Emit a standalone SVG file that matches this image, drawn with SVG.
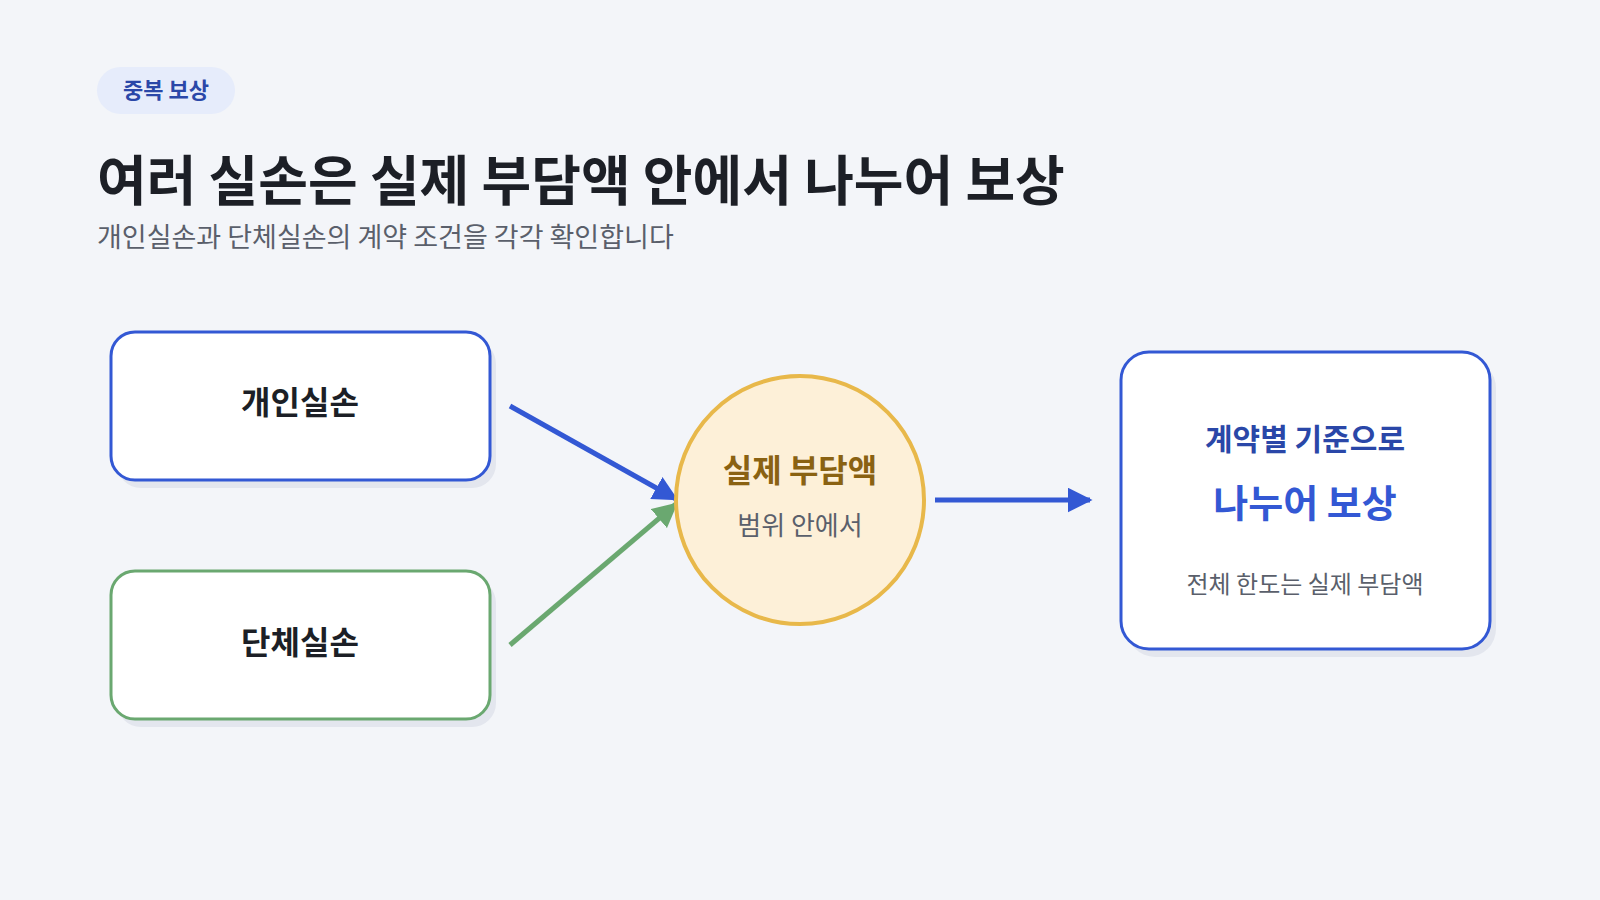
<svg xmlns="http://www.w3.org/2000/svg" width="1600" height="900" viewBox="0 0 1600 900">
<defs>
<style>
text{font-family:"Noto Sans CJK KR","Noto Sans",sans-serif;text-anchor:middle}
.shadow{fill:#e3e6ee}
.box{fill:#fff;stroke-width:3}
.lbl{font-size:32px;font-weight:700;fill:#1c1f26}
</style>
<marker id="ab" viewBox="0 0 10 10" refX="9" refY="5" markerWidth="5" markerHeight="5" orient="auto"><path d="M0,0L10,5L0,10z" fill="#3358d4"/></marker>
<marker id="ag" viewBox="0 0 10 10" refX="9" refY="5" markerWidth="5" markerHeight="5" orient="auto"><path d="M0,0L10,5L0,10z" fill="#6aa870"/></marker>
</defs>
<rect width="1600" height="900" fill="#f3f5f9"/>
<g id="tag"><rect x="97" y="67" width="138" height="47" rx="23.5" fill="#e6ecfb"/><text x="166" y="98" font-size="22" font-weight="700" fill="#2a47a8">중복 보상</text></g>
<text x="97" y="201" font-size="54" font-weight="700" fill="#1c1f26" style="text-anchor:start">여러 실손은 실제 부담액 안에서 나누어 보상</text>
<text x="97" y="247" font-size="27" fill="#5a5f6b" style="text-anchor:start">개인실손과 단체실손의 계약 조건을 각각 확인합니다</text>
<g id="connectors" fill="none" stroke-width="5">
<line x1="510" y1="406" x2="676" y2="499" stroke="#3358d4" marker-end="url(#ab)"/>
<line x1="510" y1="645" x2="676" y2="504" stroke="#6aa870" marker-end="url(#ag)"/>
<line x1="935" y1="500" x2="1090" y2="500" stroke="#3358d4" marker-end="url(#ab)"/>
</g>
<g id="n1"><rect class="shadow" x="117" y="340" width="379" height="148" rx="24"/><rect class="box" x="111" y="332" width="379" height="148" rx="24" stroke="#3358d4"/><text class="lbl" x="300" y="414">개인실손</text></g>
<g id="n2"><rect class="shadow" x="117" y="579" width="379" height="148" rx="24"/><rect class="box" x="111" y="571" width="379" height="148" rx="24" stroke="#6aa870"/><text class="lbl" x="300" y="654">단체실손</text></g>
<g id="n3"><circle cx="800" cy="500" r="124" fill="#fdf0d8" stroke="#e8b84a" stroke-width="4"/><text x="800" y="482" font-size="32" font-weight="700" fill="#8a6212">실제 부담액</text><text x="800" y="535" font-size="26" fill="#5a5f6b">범위 안에서</text></g>
<g id="n4"><rect class="shadow" x="1127" y="360" width="369" height="297" rx="28"/><rect class="box" x="1121" y="352" width="369" height="297" rx="28" stroke="#3358d4"/><text x="1305" y="450" font-size="30" font-weight="700" fill="#2a47a8">계약별 기준으로</text><text x="1305" y="517" font-size="38" font-weight="700" fill="#3358d4">나누어 보상</text><text x="1305" y="593" font-size="24" fill="#5a5f6b">전체 한도는 실제 부담액</text></g>
</svg>
